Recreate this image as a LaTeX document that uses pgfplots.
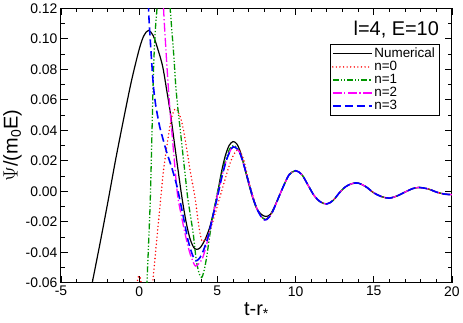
\documentclass[border=0pt]{standalone}
\usepackage{fontspec}
\setmainfont{Liberation Sans}
\usepackage{pgfplots}
\pgfplotsset{compat=1.18}
\definecolor{mygreen}{RGB}{0,150,0}
\definecolor{mymagenta}{RGB}{255,0,255}
\begin{document}
\begin{tikzpicture}
\begin{axis}[
 width=393pt, height=276pt, scale only axis,
 xmin=-5, xmax=20, ymin=-0.06, ymax=0.12,
 xtick={-5,0,5,10,15,20}, minor x tick num=4,
 ytick={-0.06,-0.04,-0.02,0,0.02,0.04,0.06,0.08,0.10,0.12}, minor y tick num=1,
 tick align=inside,
 xtick pos=both, ytick pos=both,
 major tick length=7pt, minor tick length=4pt,
 tick style={black, line width=0.8pt},
 axis line style={line width=1pt},
 ticklabel style={font=\fontsize{14}{16}\selectfont},
 /pgf/number format/assume math mode=true,
 yticklabel style={/pgf/number format/.cd, fixed, fixed zerofill, precision=2},
 scaled y ticks=false,
 xlabel={t-r\textsubscript{*}},
 ylabel={$\Psi$/(m\textsubscript{0}E)},
 label style={font=\fontsize{20}{22}\selectfont},
 ylabel style={yshift=-3pt},
 legend cell align=left,
 legend style={at={(rel axis cs:0.967,0.870)}, anchor=north east,
   font=\fontsize{13.5}{13.8}\selectfont, row sep=-1.8pt, inner sep=2pt},
 legend image code/.code={\draw[#1] (0pt,0pt) -- (39pt,0pt);},
]
\addplot[black, line width=1.2pt, smooth] coordinates {
(-3.1,-0.066) (-3.0,-0.060) (-2.5,-0.034) (-2.0,-0.007) (-1.5,0.021) (-1.0,0.047) (-0.5,0.072)
(0.0,0.093) (0.3,0.102) (0.6,0.1055) (0.9,0.102) (1.2,0.093) (1.5,0.082) (1.75,0.067) (2.0,0.051)
(2.25,0.032) (2.5,0.013) (2.75,-0.005) (3.0,-0.020) (3.25,-0.031) (3.5,-0.037) (3.7,-0.038)
(3.9,-0.037) (4.2,-0.032) (4.5,-0.024) (4.75,-0.014) (5.0,-0.002) (5.25,0.012) (5.5,0.023)
(5.75,0.030) (6.0,0.0326) (6.25,0.031) (6.5,0.025) (6.75,0.015) (7.0,0.005) (7.25,-0.004)
(7.5,-0.011) (7.8,-0.015) (8.1,-0.0165) (8.4,-0.015) (8.7,-0.009) (9.0,-0.002) (9.3,0.005)
(9.6,0.011) (10.0,0.0135) (10.4,0.011) (10.8,0.004) (11.2,-0.003) (11.6,-0.007) (12.0,-0.0083)
(12.4,-0.006) (12.8,-0.001) (13.2,0.003) (13.6,0.005) (14.0,0.0054) (14.5,0.003) (15.0,-0.001)
(15.5,-0.0035) (16.0,-0.0045) (16.5,-0.003) (17.0,-0.0005) (17.5,0.0018) (17.9,0.0025)
(18.5,0.0015) (19.0,-0.0005) (19.5,-0.0018) (20.0,-0.0022)};
\addlegendentry{Numerical}
\addplot[red, line width=1.6pt, smooth, line cap=round, dash pattern=on 0pt off 3.6pt] coordinates {
(-0.25,-0.07) (-0.1,-0.058) (0.0,-0.0555) (0.1,-0.058) (0.25,-0.07) (0.6,-0.085) (0.92,-0.054)
(1.14,-0.030) (1.35,-0.008) (1.56,0.014) (1.88,0.037) (2.09,0.049) (2.3,0.054) (2.45,0.053)
(2.62,0.049) (2.8,0.042) (2.94,0.034) (3.1,0.024) (3.25,0.014) (3.45,0.003) (3.6,-0.006)
(3.75,-0.018) (3.9,-0.028) (4.05,-0.033) (4.25,-0.031) (4.52,-0.026) (4.85,-0.015) (5.16,-0.004)
(5.5,0.008) (5.8,0.018) (6.1,0.025) (6.4,0.027) (6.7,0.020) (7.0,0.007) (7.3,-0.004)
(7.6,-0.013) (7.9,-0.0175) (8.15,-0.018) (8.5,-0.014) (9.0,-0.002) (9.3,0.005)
(9.6,0.011) (10.0,0.0135) (10.4,0.011) (10.8,0.004) (11.2,-0.003) (11.6,-0.007) (12.0,-0.0083)
(12.4,-0.006) (12.8,-0.001) (13.2,0.003) (13.6,0.005) (14.0,0.0054) (14.5,0.003) (15.0,-0.001)
(15.5,-0.0035) (16.0,-0.0045) (16.5,-0.003) (17.0,-0.0005) (17.5,0.0018) (17.9,0.0025)
(18.5,0.0015) (19.0,-0.0005) (19.5,-0.0018) (20.0,-0.0022)};
\addlegendentry{n=0}
\addplot[mygreen, line width=1.3pt, smooth, dash pattern=on 6pt off 2pt on 1.2pt off 2pt on 1.2pt off 2pt] coordinates {
(0.35,-0.10) (0.5,-0.06) (0.6,-0.035) (0.71,-0.006) (0.8,0.030) (0.92,0.080) (1.03,0.105)
(1.14,0.12) (1.3,0.15) (1.55,0.165) (1.8,0.145) (1.98,0.12) (2.2,0.091) (2.35,0.068)
(2.5,0.052) (2.62,0.041) (2.8,0.024) (2.95,0.010) (3.1,-0.004) (3.25,-0.014) (3.46,-0.028)
(3.65,-0.045) (3.84,-0.054) (4.0,-0.0565) (4.15,-0.052) (4.31,-0.0435) (4.5,-0.030)
(4.73,-0.015) (5.0,-0.001) (5.2,0.008) (5.5,0.020) (5.8,0.028) (6.05,0.030) (6.3,0.028)
(6.6,0.021) (7.0,0.006) (7.3,-0.005) (7.6,-0.013) (7.9,-0.0175) (8.15,-0.018) (8.5,-0.014)
(9.0,-0.002) (9.3,0.005)
(9.6,0.011) (10.0,0.0135) (10.4,0.011) (10.8,0.004) (11.2,-0.003) (11.6,-0.007) (12.0,-0.0083)
(12.4,-0.006) (12.8,-0.001) (13.2,0.003) (13.6,0.005) (14.0,0.0054) (14.5,0.003) (15.0,-0.001)
(15.5,-0.0035) (16.0,-0.0045) (16.5,-0.003) (17.0,-0.0005) (17.5,0.0018) (17.9,0.0025)
(18.5,0.0015) (19.0,-0.0005) (19.5,-0.0018) (20.0,-0.0022)};
\addlegendentry{n=1}
\addplot[mymagenta, line width=1.3pt, smooth, dash pattern=on 9pt off 2.5pt on 1.2pt off 2.5pt] coordinates {
(1.42,0.16) (1.56,0.12) (1.67,0.10) (1.77,0.083) (1.9,0.063) (1.98,0.052) (2.1,0.038)
(2.2,0.026) (2.45,-0.002) (2.7,-0.016) (2.94,-0.028) (3.2,-0.039) (3.4,-0.045) (3.6,-0.049)
(3.85,-0.047) (4.1,-0.0425) (4.5,-0.027) (4.95,-0.005) (5.3,0.010) (5.6,0.021) (5.9,0.028)
(6.1,0.029) (6.4,0.026) (6.7,0.017) (7.0,0.006) (7.3,-0.005) (7.6,-0.013) (7.9,-0.018)
(8.15,-0.0185) (8.5,-0.014) (9.0,-0.002) (9.3,0.005)
(9.6,0.011) (10.0,0.0135) (10.4,0.011) (10.8,0.004) (11.2,-0.003) (11.6,-0.007) (12.0,-0.0083)
(12.4,-0.006) (12.8,-0.001) (13.2,0.003) (13.6,0.005) (14.0,0.0054) (14.5,0.003) (15.0,-0.001)
(15.5,-0.0035) (16.0,-0.0045) (16.5,-0.003) (17.0,-0.0005) (17.5,0.0018) (17.9,0.0025)
(18.5,0.0015) (19.0,-0.0005) (19.5,-0.0018) (20.0,-0.0022)};
\addlegendentry{n=2}
\addplot[blue, line width=1.6pt, smooth, dash pattern=on 8pt off 4pt] coordinates {
(0.45,0.17) (0.6,0.12) (0.7,0.101) (0.8,0.085) (0.92,0.068) (1.05,0.057)
(1.15,0.051) (1.3,0.043) (1.45,0.037) (1.75,0.026) (2.1,0.015) (2.4,0.004) (2.62,-0.0065)
(2.85,-0.018) (3.1,-0.031) (3.35,-0.040) (3.6,-0.0455) (3.85,-0.044) (4.1,-0.039)
(4.4,-0.030) (4.7,-0.017) (5.0,-0.004) (5.3,0.010) (5.6,0.021) (5.9,0.028) (6.1,0.029)
(6.4,0.026) (6.7,0.017) (7.0,0.006) (7.3,-0.005) (7.6,-0.013) (7.9,-0.018) (8.15,-0.0185)
(8.5,-0.014) (9.0,-0.002) (9.3,0.005)
(9.6,0.011) (10.0,0.0135) (10.4,0.011) (10.8,0.004) (11.2,-0.003) (11.6,-0.007) (12.0,-0.0083)
(12.4,-0.006) (12.8,-0.001) (13.2,0.003) (13.6,0.005) (14.0,0.0054) (14.5,0.003) (15.0,-0.001)
(15.5,-0.0035) (16.0,-0.0045) (16.5,-0.003) (17.0,-0.0005) (17.5,0.0018) (17.9,0.0025)
(18.5,0.0015) (19.0,-0.0005) (19.5,-0.0018) (20.0,-0.0022)};
\addlegendentry{n=3}
\node[anchor=east, font=\fontsize{20}{22}\selectfont, inner sep=0pt] at (rel axis cs:0.967,0.924) {l=4, E=10};
\end{axis}
\path ([shift={(-60pt,-36pt)}]current axis.south west) rectangle ([shift={(10pt,6pt)}]current axis.north east);
\end{tikzpicture}
\end{document}
